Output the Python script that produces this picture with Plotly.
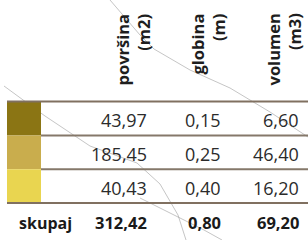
import plotly.graph_objects as go

# ---- data ----
headers = ["površina", "globina", "volumen"]
units = ["(m2)", "(m)", "(m3)"]
swatch_colors = ["#8b7514", "#c9ad4d", "#e9d550"]
povrsina = [43.97, 185.45, 40.43]
globina = [0.15, 0.25, 0.40]
volumen = [6.60, 46.40, 16.20]
total_label = "skupaj"
totals = [312.42, 0.80, 69.20]

# ---- layout geometry (pixels) ----
W, H = 308, 240
row_edges = [101.5, 135.5, 169.2, 203.0]
total_y = 222.5
col_right = [148.5, 223, 300.5]
head_center = [132.5, 207.0, 283.5]
sw_x0, sw_x1 = 7, 41

def fmt(v):
    return f"{v:.2f}".replace(".", ",")

fig = go.Figure()
fig.add_trace(go.Scatter(x=[0, W], y=[0, H], mode="markers",
                         marker=dict(opacity=0), hoverinfo="skip", showlegend=False))

shapes = []
# faint background map lines
bg = "rgba(150,150,150,0.55)"
shapes.append(dict(type="path", path="M 4 86 L 45 116 L 90 146 L 137 163 L 160 184 L 178 215 L 186 240",
                   line=dict(color=bg, width=1), layer="below"))
shapes.append(dict(type="path", path="M 110 0 L 140 35 L 154 49 L 190 70 L 230 88 L 270 112 L 308 137",
                   line=dict(color=bg, width=1), layer="below"))
shapes.append(dict(type="path", path="M 140 198 L 154 205 L 204 230 L 222 240",
                   line=dict(color=bg, width=1), layer="below"))

# swatches
for i, c in enumerate(swatch_colors):
    shapes.append(dict(type="rect", x0=sw_x0, x1=sw_x1, y0=row_edges[i], y1=row_edges[i + 1],
                       fillcolor=c, line=dict(width=0), layer="above"))
# row lines
for j, y in enumerate(row_edges):
    outer = j == 0 or j == len(row_edges) - 1
    shapes.append(dict(type="line", x0=sw_x0 if outer else sw_x1, x1=W, y0=y, y1=y,
                       line=dict(color="#85786a" if not outer else "#807060", width=2), layer="above"))

annotations = []
# rotated headers
for k, (h, u) in enumerate(zip(headers, units)):
    annotations.append(dict(x=head_center[k], y=12, xref="x", yref="y",
                            text=f"<b>{h}</b><br><b>{u}</b>", textangle=-90,
                            showarrow=False, xanchor="center", yanchor="top", align="right",
                            font=dict(family="Open Sans", size=16.5, color="#1e1e1e")))
# body values
cols = [povrsina, globina, volumen]
for i in range(len(povrsina)):
    yc = (row_edges[i] + row_edges[i + 1]) / 2 + 1.5
    for k, col in enumerate(cols):
        annotations.append(dict(x=col_right[k], y=yc, xref="x", yref="y", text=fmt(col[i]),
                                showarrow=False, xanchor="right", yanchor="middle",
                                font=dict(family="Open Sans", size=18, color="#2b2b2b")))
# totals
annotations.append(dict(x=17, y=total_y, xref="x", yref="y", text=f"<b>{total_label}</b>",
                        showarrow=False, xanchor="left", yanchor="middle",
                        font=dict(family="Open Sans", size=16, color="#1a1a1a")))
for k, v in enumerate(totals):
    annotations.append(dict(x=col_right[k], y=total_y, xref="x", yref="y", text=f"<b>{fmt(v)}</b>",
                            showarrow=False, xanchor="right", yanchor="middle",
                            font=dict(family="Open Sans", size=16.5, color="#1a1a1a")))

fig.update_layout(
    width=W, height=H, margin=dict(l=0, r=0, t=0, b=0),
    paper_bgcolor="white", plot_bgcolor="white",
    xaxis=dict(range=[0, W], visible=False, fixedrange=True),
    yaxis=dict(range=[H, 0], visible=False, fixedrange=True),
    shapes=shapes, annotations=annotations, showlegend=False,
)
fig.write_html("out.html", config={"displayModeBar": False},
               post_script="document.body.style.margin='0';document.body.style.overflow='hidden';")
